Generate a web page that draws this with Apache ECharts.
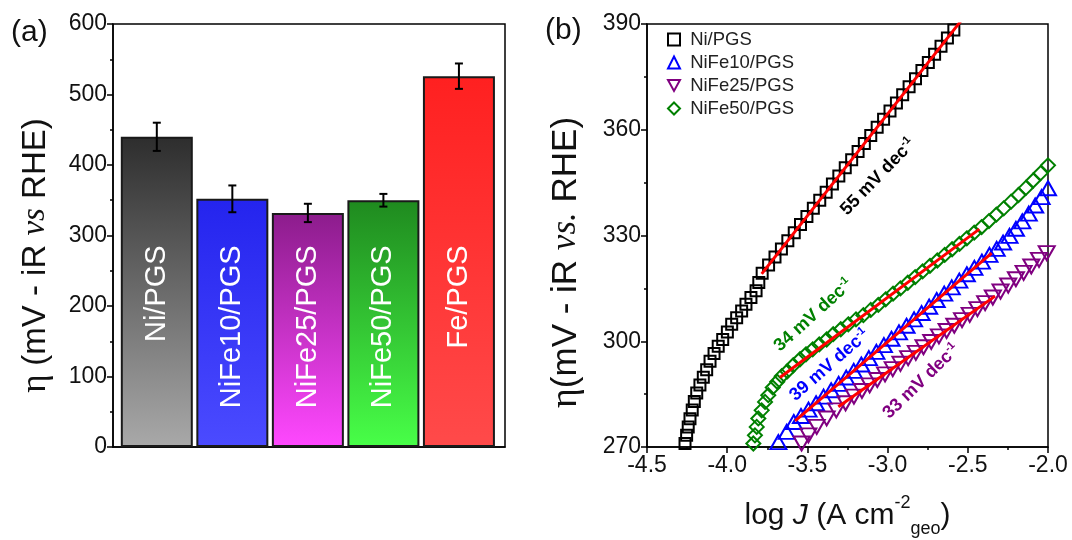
<!DOCTYPE html>
<html>
<head>
<meta charset="utf-8">
<title>Overpotential and Tafel plots</title>
<script src="https://cdn.jsdelivr.net/npm/echarts@6/dist/echarts.min.js"></script>
<style>
  html, body { margin: 0; padding: 0; background: #fff; }
  #chart { width: 1072px; height: 540px; }
</style>
</head>
<body>
<div id="chart"></div>
<script>
  const FONT = 'Arial, "Liberation Sans", sans-serif'
  const SERIF = '"Liberation Serif", "Times New Roman", serif'

  // (a) overpotential bars
  const categories = ['Ni/PGS', 'NiFe10/PGS', 'NiFe25/PGS', 'NiFe50/PGS', 'Fe/PGS']
  const overpotential = [440, 352, 332, 350, 526]
  const overpotentialErr = [20, 19, 13, 9, 18]
  const barColors = [
    ['#2d2d2d', '#a9a9a9'],
    ['#2424ee', '#4b4bff'],
    ['#8c1c8c', '#ff48ff'],
    ['#1f8a1f', '#48ff48'],
    ['#ff2020', '#ff4a4a']
  ]

  // (b) Tafel data: [log J, eta]
  const niPGS = [
    [-4.263, 271.0], [-4.253, 273.3], [-4.243, 275.7], [-4.232, 278.0], [-4.218, 280.5],
    [-4.205, 282.9], [-4.190, 285.3], [-4.170, 287.6], [-4.149, 289.8], [-4.128, 291.9],
    [-4.107, 294.3], [-4.082, 296.5], [-4.056, 298.6], [-4.028, 300.5], [-3.999, 302.6],
    [-3.972, 304.8], [-3.941, 306.7], [-3.910, 308.6], [-3.883, 310.5], [-3.852, 312.4],
    [-3.820, 314.3], [-3.803, 316.7], [-3.782, 319.3], [-3.742, 321.6], [-3.702, 323.9],
    [-3.662, 326.2], [-3.622, 328.5], [-3.582, 330.8], [-3.543, 333.1], [-3.503, 335.4],
    [-3.463, 337.7], [-3.423, 340.0], [-3.383, 342.3], [-3.344, 344.6], [-3.304, 346.9],
    [-3.264, 349.2], [-3.224, 351.5], [-3.184, 353.8], [-3.145, 356.1], [-3.105, 358.4],
    [-3.065, 360.7], [-3.025, 363.0], [-2.985, 365.3], [-2.945, 367.6], [-2.906, 369.9],
    [-2.866, 372.2], [-2.826, 374.5], [-2.786, 376.8], [-2.746, 379.1], [-2.707, 381.4],
    [-2.667, 383.7], [-2.627, 386.0], [-2.587, 388.3], [-2.547, 390.6], [-2.508, 392.9]
  ]
  const niFe10PGS = [
    [-3.681, 271.4], [-3.629, 274.3], [-3.585, 277.1], [-3.540, 278.8], [-3.493, 280.6],
    [-3.446, 282.4], [-3.399, 284.3], [-3.352, 286.1], [-3.305, 287.9], [-3.258, 289.7],
    [-3.211, 291.6], [-3.164, 293.4], [-3.117, 295.2], [-3.070, 297.0], [-3.023, 298.9],
    [-2.976, 300.7], [-2.929, 302.5], [-2.882, 304.4], [-2.835, 306.2], [-2.788, 308.0],
    [-2.741, 309.8], [-2.694, 311.7], [-2.647, 313.5], [-2.600, 315.3], [-2.553, 317.2],
    [-2.506, 319.0], [-2.459, 320.8], [-2.412, 322.6], [-2.365, 324.5], [-2.320, 326.2],
    [-2.280, 328.0], [-2.240, 329.9], [-2.200, 331.9], [-2.160, 334.0], [-2.120, 336.2],
    [-2.080, 338.5], [-2.040, 340.9], [-2.000, 343.4]
  ]
  const niFe25PGS = [
    [-3.536, 271.0], [-3.494, 273.3], [-3.442, 275.7], [-3.380, 278.1], [-3.320, 280.4],
    [-3.262, 282.4], [-3.210, 284.3], [-3.160, 285.9], [-3.112, 287.5], [-3.064, 289.0],
    [-3.016, 290.6], [-2.968, 292.1], [-2.920, 293.6], [-2.872, 295.2], [-2.824, 296.7],
    [-2.776, 298.3], [-2.728, 299.8], [-2.680, 301.4], [-2.632, 302.9], [-2.584, 304.4],
    [-2.536, 306.0], [-2.488, 307.5], [-2.440, 309.1], [-2.392, 310.8], [-2.344, 312.4],
    [-2.296, 314.1], [-2.248, 315.8], [-2.200, 317.6], [-2.152, 319.4], [-2.104, 321.2],
    [-2.056, 323.1], [-2.008, 325.0]
  ]
  const niFe50PGS = [
    [-3.837, 271.0], [-3.827, 273.3], [-3.816, 275.7], [-3.806, 278.1], [-3.785, 280.4],
    [-3.764, 282.8], [-3.744, 284.7], [-3.716, 286.9], [-3.688, 288.5], [-3.660, 290.1],
    [-3.625, 291.5], [-3.588, 293.2], [-3.546, 294.9], [-3.509, 296.3], [-3.467, 297.7],
    [-3.426, 299.1], [-3.380, 300.5], [-3.339, 302.0], [-3.292, 303.4], [-3.245, 304.8],
    [-3.197, 306.2], [-3.151, 307.4], [-3.105, 308.9], [-3.058, 310.3], [-3.012, 311.9],
    [-2.966, 313.5], [-2.920, 315.0], [-2.874, 316.6], [-2.828, 318.2], [-2.782, 319.8],
    [-2.736, 321.4], [-2.690, 322.9], [-2.644, 324.5], [-2.598, 326.1], [-2.552, 327.6],
    [-2.506, 329.2], [-2.460, 330.8], [-2.414, 332.4], [-2.368, 334.1], [-2.322, 335.9],
    [-2.276, 337.7], [-2.230, 339.6], [-2.184, 341.5], [-2.138, 343.5], [-2.092, 345.6],
    [-2.046, 347.7], [-2.000, 349.9]
  ]

  // linear Tafel fits (end points)
  const fitNi = [[-3.785, 319.1], [-2.544, 390.8]]
  const fitNiFe10 = [[-3.577, 277.4], [-2.351, 325.0]]
  const fitNiFe25 = [[-3.307, 281.4], [-2.330, 312.8]]
  const fitNiFe50 = [[-3.671, 289.7], [-2.428, 331.8]]
  const tafelSlopes = ['55', '34', '39', '33']

  // where the slope notes sit (data coords) and their angle
  const noteLayout = [
    { at: [-3.060, 346.6], angle: 46, color: '#000000' },
    { at: [-3.462, 307.4], angle: 42, color: '#008000' },
    { at: [-3.362, 293.2], angle: 41, color: '#0000ff' },
    { at: [-2.790, 288.6], angle: 44, color: '#800080' }
  ]
  const LABEL_TOP = 286

  const chart = echarts.init(document.getElementById('chart'))

  const axisLine = { show: true, lineStyle: { color: '#000', width: 1.5 } }
  const tickStyle = { lineStyle: { color: '#000', width: 1.5 } }

  const makeFit = (data) => ({
    type: 'line',
    xAxisIndex: 1,
    yAxisIndex: 1,
    data: data,
    symbol: 'none',
    silent: true,
    z: 5,
    lineStyle: { color: '#ff0000', width: 3 }
  })

  const makeTafel = (name, data, symbol, size, color, rotate) => ({
    name: name,
    type: 'scatter',
    xAxisIndex: 1,
    yAxisIndex: 1,
    data: data,
    symbol: symbol,
    symbolSize: size,
    symbolRotate: rotate || 0,
    itemStyle: { color: 'rgba(0,0,0,0)', borderColor: color, borderWidth: 2, opacity: 1 }
  })

  const option = {
    animation: false,
    textStyle: { fontFamily: FONT },
    grid: [
      {
        left: 113, right: 567, top: 24, bottom: 93, outerBoundsMode: 'none',
        show: true, borderColor: '#000', borderWidth: 1.5
      },
      {
        left: 647, right: 24, top: 24, bottom: 93, outerBoundsMode: 'none',
        show: true, borderColor: '#000', borderWidth: 1.5
      }
    ],
    xAxis: [
      {
        type: 'value', gridIndex: 0, min: 0.42, max: 5.61,
        axisLine: axisLine, axisTick: { show: false }, axisLabel: { show: false }, splitLine: { show: false }
      },
      {
        type: 'value', gridIndex: 1, min: -4.5, max: -2.0, interval: 0.5,
        axisLine: axisLine,
        axisTick: Object.assign({ length: 6 }, tickStyle),
        minorTick: { show: true, splitNumber: 2, length: 3, lineStyle: { color: '#000', width: 1.5 } },
        axisLabel: { color: '#111', fontSize: 23, margin: 7, formatter: (v) => v.toFixed(1) },
        splitLine: { show: false },
        name: '{t|log }{i|J}{t| (A cm}{sup|-2}{sub|geo}{t|)}',
        nameLocation: 'middle',
        nameGap: 47,
        nameTextStyle: {
          rich: {
            t: { fontSize: 30, color: '#111', fontFamily: FONT, lineHeight: 44 },
            i: { fontSize: 30, color: '#111', fontFamily: FONT, fontStyle: 'italic', lineHeight: 44 },
            sup: { fontSize: 18, color: '#111', fontFamily: FONT, verticalAlign: 'top', lineHeight: 30 },
            sub: { fontSize: 18, color: '#111', fontFamily: FONT, verticalAlign: 'bottom', lineHeight: 18 }
          }
        }
      }
    ],
    yAxis: [
      {
        type: 'value', gridIndex: 0, min: 0, max: 600, interval: 100,
        axisLine: axisLine,
        axisTick: Object.assign({ length: 6 }, tickStyle),
        minorTick: { show: true, splitNumber: 2, length: 3, lineStyle: { color: '#000', width: 1.5 } },
        axisLabel: { color: '#111', fontSize: 23, margin: 6 },
        splitLine: { show: false },
        name: '{e|η }{t|(mV - iR }{i|vs}{t| RHE)}',
        nameLocation: 'middle',
        nameGap: 60,
        nameTextStyle: {
          padding: [0, 40, 0, 0],
          rich: {
            e: { fontSize: 35, color: '#111', fontFamily: SERIF },
            t: { fontSize: 33, color: '#111', fontFamily: FONT },
            i: { fontSize: 33, color: '#111', fontFamily: SERIF, fontStyle: 'italic' }
          }
        }
      },
      {
        type: 'value', gridIndex: 1, min: 270, max: 390, interval: 30,
        axisLine: axisLine,
        axisTick: Object.assign({ length: 6 }, tickStyle),
        minorTick: { show: true, splitNumber: 2, length: 3, lineStyle: { color: '#000', width: 1.5 } },
        axisLabel: { color: '#111', fontSize: 23, margin: 6 },
        splitLine: { show: false },
        name: '{e|η}{t|(mV - iR }{i|vs.}{t| RHE)}',
        nameLocation: 'middle',
        nameGap: 62,
        nameTextStyle: {
          padding: [0, 54, 0, 0],
          rich: {
            e: { fontSize: 38, color: '#111', fontFamily: SERIF },
            t: { fontSize: 35, color: '#111', fontFamily: FONT },
            i: { fontSize: 35, color: '#111', fontFamily: SERIF, fontStyle: 'italic' }
          }
        }
      }
    ],
    legend: {
      orient: 'vertical',
      left: 662,
      top: 25,
      itemWidth: 12,
      itemHeight: 12,
      itemGap: 4,
      itemStyle: { borderWidth: 2 },
      textStyle: { fontSize: 18.5, color: '#222', fontFamily: FONT },
      formatter: (name) => ' ' + name,
      data: [
        { name: 'Ni/PGS', icon: 'rect' },
        { name: 'NiFe10/PGS', icon: 'triangle' },
        { name: 'NiFe25/PGS', icon: 'path://M0,0L12,0L6,11Z' },
        { name: 'NiFe50/PGS', icon: 'diamond' }
      ]
    },
    graphic: [
      { type: 'text', left: 11, top: 18, style: { text: '(a)', fontSize: 30, fill: '#111', fontFamily: FONT } },
      { type: 'text', left: 545, top: 16, style: { text: '(b)', fontSize: 30, fill: '#111', fontFamily: FONT } }
    ],
    series: [
      {
        type: 'bar',
        xAxisIndex: 0,
        yAxisIndex: 0,
        barWidth: 72,
        data: overpotential.map((v, i) => ({
          value: [i + 1, v],
          itemStyle: {
            color: new echarts.graphic.LinearGradient(0, 0, 0, 1, [
              { offset: 0, color: barColors[i][0] },
              { offset: 1, color: barColors[i][1] }
            ]),
            borderColor: '#1a1a1a',
            borderWidth: 2
          }
        }))
      },
      {
        type: 'custom',
        xAxisIndex: 0,
        yAxisIndex: 0,
        silent: true,
        z: 4,
        data: overpotential.map((v, i) => [i + 1, v - overpotentialErr[i], v + overpotentialErr[i]]),
        renderItem: (params, api) => {
          const x = api.value(0)
          const lo = api.coord([x, api.value(1)])
          const hi = api.coord([x, api.value(2)])
          const w = 4
          const style = { stroke: '#000', lineWidth: 2 }
          return {
            type: 'group',
            children: [
              { type: 'line', shape: { x1: hi[0], y1: hi[1], x2: lo[0], y2: lo[1] }, style: style },
              { type: 'line', shape: { x1: hi[0] - w, y1: hi[1], x2: hi[0] + w, y2: hi[1] }, style: style },
              { type: 'line', shape: { x1: lo[0] - w, y1: lo[1], x2: lo[0] + w, y2: lo[1] }, style: style }
            ]
          }
        }
      },
      {
        type: 'custom',
        xAxisIndex: 0,
        yAxisIndex: 0,
        silent: true,
        z: 4,
        data: categories.map((c, i) => [i + 1, LABEL_TOP]),
        renderItem: (params, api) => {
          const p = api.coord([api.value(0), api.value(1)])
          return {
            type: 'text',
            x: p[0],
            y: p[1],
            rotation: Math.PI / 2,
            style: {
              text: categories[params.dataIndex],
              fill: '#ffffff',
              font: '29px Arial, "Liberation Sans", sans-serif',
              align: 'right',
              verticalAlign: 'middle'
            }
          }
        }
      },
      makeTafel('Ni/PGS', niPGS, 'rect', 11, '#000000'),
      makeTafel('NiFe10/PGS', niFe10PGS, 'triangle', [16, 14], '#0000ff'),
      makeTafel('NiFe25/PGS', niFe25PGS, 'triangle', [16, 14], '#800080', 180),
      makeTafel('NiFe50/PGS', niFe50PGS, 'diamond', 14, '#008000'),
      makeFit(fitNi),
      makeFit(fitNiFe10),
      makeFit(fitNiFe25),
      makeFit(fitNiFe50)
    ]
  }

  chart.setOption(option)

  // slope notes, placed through the Tafel grid's scales
  const notes = noteLayout.map((n, i) => {
    const p = chart.convertToPixel({ gridIndex: 1 }, n.at)
    return {
      type: 'text',
      x: p[0],
      y: p[1],
      rotation: n.angle * Math.PI / 180,
      z: 10,
      style: {
        text: '{a|' + tafelSlopes[i] + ' mV dec}{s|-1}',
        align: 'center',
        verticalAlign: 'middle',
        rich: {
          a: { fontSize: 18, fontWeight: 'bold', fill: n.color, fontFamily: FONT, lineHeight: 21 },
          s: { fontSize: 11, fontWeight: 'bold', fill: n.color, fontFamily: FONT, verticalAlign: 'top', lineHeight: 13 }
        }
      }
    }
  })
  chart.setOption({ graphic: option.graphic.concat(notes) })

  window.onresize = () => {
    chart.resize()
  }
</script>
</body>
</html>
